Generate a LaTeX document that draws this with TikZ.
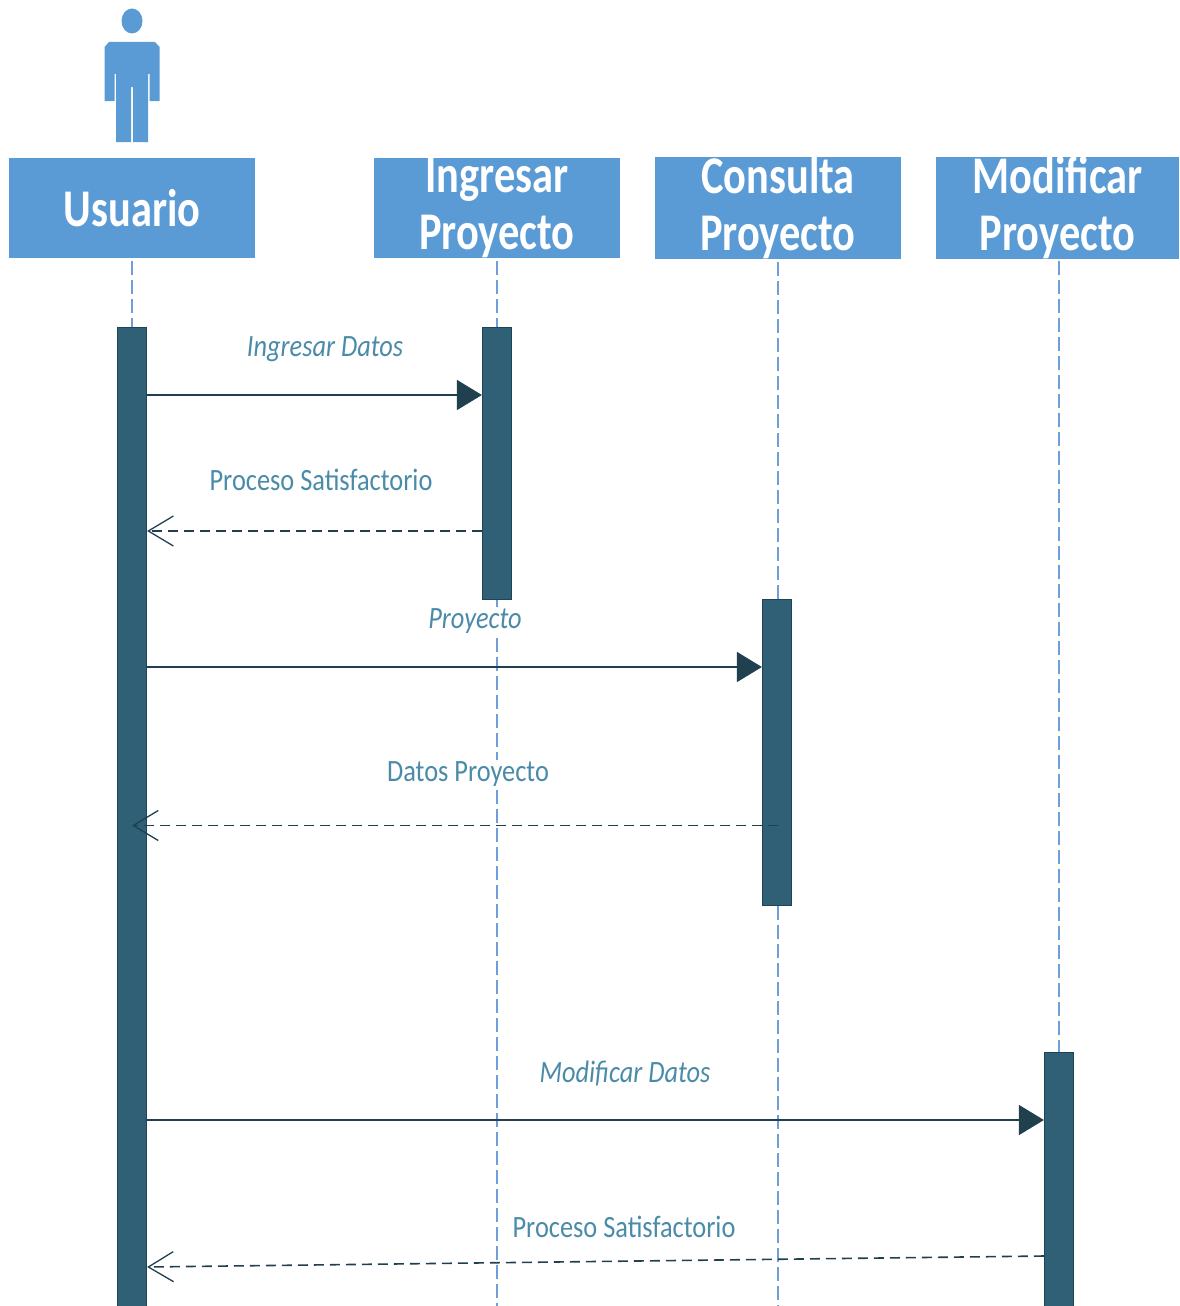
\documentclass[tikz,border=0pt]{standalone}
\usepackage{fontspec}
\setmainfont{Carlito}
\newfontfamily\headfont[FakeStretch=0.8]{Carlito}
\newfontfamily\labelfont[FakeStretch=0.85]{Carlito}
\usetikzlibrary{arrows.meta}
\definecolor{hdr}{HTML}{5B9BD5}
\definecolor{bar}{HTML}{2F6076}
\definecolor{barline}{HTML}{1F4454}
\definecolor{msg}{HTML}{20404F}
\definecolor{lbl}{HTML}{4A8BA8}
\definecolor{life}{HTML}{6F9FD8}
\tikzset{
  x=1pt,y=-1pt,
  header/.style={fill=hdr,draw=none,inner sep=0pt,minimum height=100pt,text=white,align=center,
    font=\headfont\bfseries\fontsize{53}{57}\selectfont},
  lifebar/.style={fill=bar,draw=barline,line width=1.2pt,inner sep=0pt,minimum width=29pt},
  lifeline/.style={draw=life,line width=1.5pt,dash pattern=on 14pt off 5pt},
  callmsg/.style={draw=msg,line width=1.6pt,-{Triangle[length=25pt,width=30pt,fill=msg]}},
  retmsg/.style={draw=msg,line width=1.6pt,dash pattern=on 10pt off 6pt,
    -{Straight Barb[length=25pt,width=30pt,line width=1.3pt]}},
  msgtext/.style={text=lbl,font=\labelfont\fontsize{31}{34}\selectfont,inner sep=2pt},
  msgital/.style={msgtext,font=\labelfont\itshape\fontsize{31}{34}\selectfont},
}
\begin{document}
\begin{tikzpicture}
\useasboundingbox (0,0) rectangle (1179,1306);
\clip (0,0) rectangle (1179,1306);
% actor
\fill[hdr] (132,21) ellipse [x radius=10.5,y radius=12.5];
\fill[hdr] (109,42) -- (155,42) -- (159.5,47) -- (159.5,101) -- (149.5,101) -- (149.5,74) -- (148,74)
  -- (148,142) -- (133,142) -- (133,87) -- (131,87) -- (131,142) -- (116,142) -- (116,74) -- (114.5,74)
  -- (114.5,101) -- (104.5,101) -- (104.5,47) -- cycle;
% headers
\node[header,minimum width=246pt] (hU) at (132,208) {Usuario};
\node[header,minimum width=246pt] (hI) at (497,208) {Ingresar\\Proyecto};
\node[header,minimum width=246pt] (hC) at (778,208) {Consulta\\Proyecto};
\node[header,minimum width=243pt] (hM) at (1057.5,208) {Modificar\\Proyecto};
% lifeline ends
\coordinate (eI) at (497,1306);
\coordinate (eC) at (778,1306);
\coordinate (sM) at (1059,258);
% activation bars
\node[lifebar,minimum height=1000pt,anchor=north] (bU) at (132,326.5) {};
\node[lifebar,minimum height=272.5pt,anchor=north] (bI) at (497,326.5) {};
\node[lifebar,minimum height=306pt,anchor=north] (bC) at (777,599) {};
\node[lifebar,minimum height=300pt,anchor=north] (bM) at (1059,1052) {};
% lifelines
\draw[lifeline] ([yshift=-3pt]hU.south) -- (bU.north);
\draw[lifeline] ([yshift=-3pt]hI.south) -- (bI.north);
\draw[lifeline] (bI.south) -- (eI);
\draw[lifeline] ([yshift=-3pt]hC.south) -- (bC.north -| hC.south);
\draw[lifeline] (bC.south -| hC.south) -- (eC);
\draw[lifeline] ([yshift=-3pt]sM) -- (bM.north);
% message levels
\coordinate (y1) at (0,395);
\coordinate (y2) at (0,531);
\coordinate (y3) at (0,667);
\coordinate (y4) at (0,825.5);
\coordinate (y5) at (0,1120);
\coordinate (y6) at (0,1267);
\coordinate (y7) at (0,1256);
% labels
\node[msgital] (l1) at (325,349) {Ingresar Datos};
\node[msgtext] (l2) at (321,480) {Proceso Satisfactorio};
\node[msgital,fill=white] (l3) at (475,621) {Proyecto};
\node[msgtext,fill=white] (l4) at (468,774) {Datos Proyecto};
\node[msgital] (l5) at (625,1074) {Modificar Datos};
\node[msgtext] (l6) at (624,1227) {Proceso Satisfactorio};
% messages
\draw[callmsg] (bU.east |- y1) -- (bI.west |- y1);
\draw[retmsg] (bI.west |- y2) -- (bU.east |- y2);
\draw[callmsg] (bU.east |- y3) -- (bC.west |- y3);
\draw[retmsg] (hC.south |- y4) -- (bU.center |- y4);
\draw[callmsg] (bU.east |- y5) -- (bM.west |- y5);
\draw[retmsg] (bM.west |- y7) -- (bU.east |- y6);
\end{tikzpicture}
\end{document}
